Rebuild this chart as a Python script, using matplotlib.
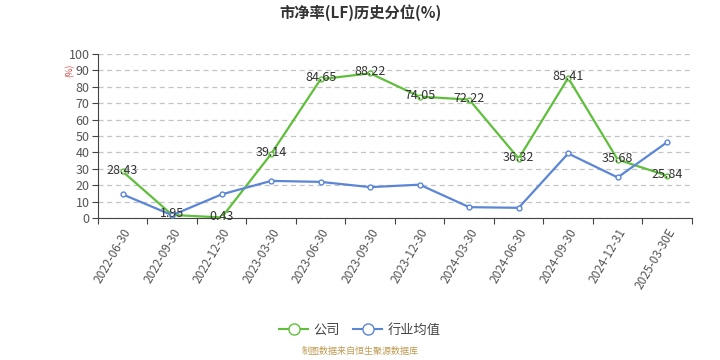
import matplotlib.pyplot as plt
from matplotlib.lines import Line2D

plt.rcParams['font.family'] = ['Noto Sans CJK SC', 'DejaVu Sans']

dates = ['2022-06-30', '2022-09-30', '2022-12-30', '2023-03-30', '2023-06-30',
         '2023-09-30', '2023-12-30', '2024-03-30', '2024-06-30', '2024-09-30',
         '2024-12-31', '2025-03-30E']
company = [28.43, 1.95, 0.43, 39.14, 84.65, 88.22, 74.05, 72.22, 36.32, 85.41, 35.68, 25.84]
industry = [14.5, 1.8, 14.5, 22.7, 22.1, 18.9, 20.4, 6.7, 6.3, 39.4, 24.8, 46.3]

green = '#5fbf3b'
blue = '#5b86d6'

fig = plt.figure(figsize=(7.2, 3.6), dpi=100)
ax = fig.add_axes([0.136, 0.394, 0.825, 0.456])

x = [i + 0.5 for i in range(len(dates))]
ax.plot(x, company, color=green, lw=1.6, marker='o', ms=3.5,
        markerfacecolor='white', markeredgecolor=green, mew=1, zorder=3)
ax.plot(x, industry, color=blue, lw=1.6, marker='o', ms=3.5,
        markerfacecolor='white', markeredgecolor=blue, mew=1, zorder=3)

for xi, v in zip(x, company):
    ax.annotate(f'{v:.2f}', (xi, v), xytext=(0, 1), textcoords='offset points',
                ha='center', va='center', fontsize=9, color='#333333', zorder=4)

ax.set_xlim(0, len(dates))
ax.set_ylim(0, 100)
ax.set_yticks(range(0, 101, 10))
ax.set_xticks(range(len(dates) + 1))
ax.set_xticklabels([])
ax.set_xticks(x, minor=True)
ax.set_xticklabels(dates, minor=True, rotation=60, ha='right', rotation_mode='anchor',
                   fontsize=8.5, color='#555555')
ax.tick_params(axis='x', which='minor', length=0, pad=6)
ax.tick_params(axis='x', which='major', length=4, color='#444444')
ax.tick_params(axis='y', length=4, color='#444444', labelsize=9, labelcolor='#555555', pad=2)

ax.grid(axis='y', ls=(0, (4, 3)), color='#c4c4c4', lw=0.9)
for s in ['top', 'right']:
    ax.spines[s].set_visible(False)
ax.spines['left'].set_color('#444444')
ax.spines['bottom'].set_color('#444444')

fig.text(0.097, 0.805, '(%)', rotation=90, color='#d04040', fontsize=6, ha='center', va='center')
fig.text(0.5, 0.965, '市净率(LF)历史分位(%)', ha='center', va='center', fontsize=11,
         fontweight='bold', color='#333333')

handles = [Line2D([], [], color=green, lw=1.5, marker='o', ms=8, markerfacecolor='white', mew=1),
           Line2D([], [], color=blue, lw=1.5, marker='o', ms=8, markerfacecolor='white', mew=1)]
fig.legend(handles, ['公司', '行业均值'], loc='center', bbox_to_anchor=(0.5, 0.082), ncol=2,
           frameon=False, fontsize=9.5, handlelength=2.2, columnspacing=1.0, handletextpad=0.4,
           labelcolor='#444444')
fig.text(0.5, 0.012, '制图数据来自恒生聚源数据库', ha='center', va='bottom', fontsize=6.5,
         color='#c09a50')

fig.savefig('out.png', dpi=100)
